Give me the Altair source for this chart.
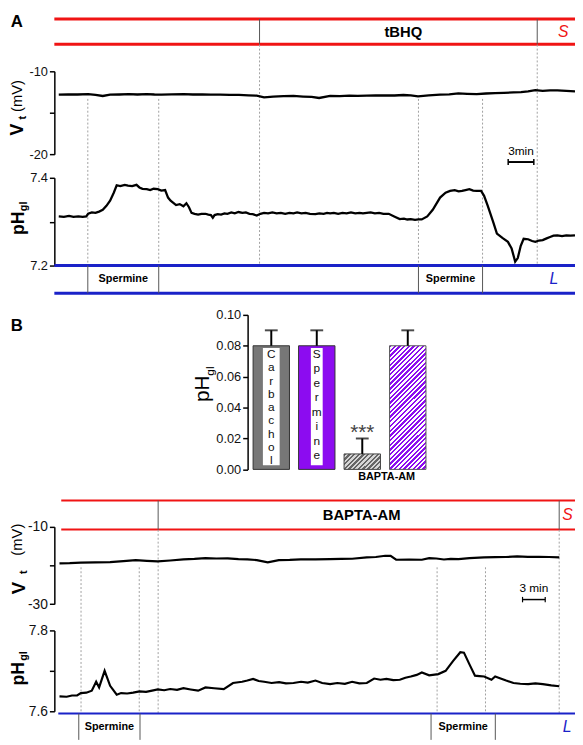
import altair as alt
import pandas as pd

FONT = "Liberation Sans"
RED = "#f01414"
BLUE = "#1a22c8"
PURPLE = "#8c0cf0"

# ---------------- data ----------------
# Panel A, pH_gl trace (time in min, pH)
a_ph_t = [0.40, 1.0, 1.6, 2.12, 2.7, 3.2, 3.62, 3.84, 4.27, 4.7,
          5.12, 5.55, 5.98, 6.41, 6.84, 7.18, 7.6, 8.13, 8.5, 8.99,
          9.50, 9.84, 10.2, 10.70, 11.1, 11.5, 11.99, 12.4, 12.85, 13.19,
          13.49, 14.13, 14.56, 14.99, 15.34, 15.64, 15.94, 16.3, 16.71, 17.1,
          17.57, 17.9, 18.21, 18.43, 18.64, 19.0, 19.4, 19.8, 20.14, 20.6,
          21.0, 21.43, 21.9, 22.3, 22.72, 23.1, 23.57, 24.0, 24.43, 24.9,
          25.4, 25.9, 26.4, 26.9, 27.4, 27.87, 28.3, 28.8, 29.3, 29.8,
          30.44, 30.9, 31.4, 31.8, 32.16, 32.6, 33.1, 33.6, 34.1, 34.6,
          35.1, 35.6, 36.0, 36.45, 36.9, 37.4, 37.9, 38.4, 39.02, 39.66,
          40.31, 40.8, 41.2, 41.60, 42.1, 42.5, 42.88, 43.53, 44.17, 45.03,
          45.67, 46.2, 46.74, 47.2, 47.60, 48.0, 48.46, 48.9, 49.32, 49.83,
          50.18, 50.61, 51.25, 51.68, 52.32, 52.97, 53.40, 53.82, 54.12, 54.47,
          54.81, 55.33, 55.8, 56.18, 56.6, 57.04, 57.5, 57.90, 58.3, 58.76,
          59.3, 59.8, 60.3, 60.82]
a_ph_v = [7.312, 7.311, 7.313, 7.311, 7.312, 7.311, 7.312, 7.318, 7.321, 7.320,
          7.323, 7.327, 7.336, 7.348, 7.366, 7.383, 7.381, 7.384, 7.382, 7.381,
          7.384, 7.378, 7.375, 7.374, 7.372, 7.375, 7.374, 7.371, 7.372, 7.355,
          7.348, 7.338, 7.340, 7.335, 7.342, 7.333, 7.320, 7.318, 7.316, 7.318,
          7.318, 7.316, 7.315, 7.309, 7.315, 7.317, 7.316, 7.319, 7.318, 7.321,
          7.319, 7.322, 7.320, 7.321, 7.318, 7.317, 7.314, 7.318, 7.320, 7.319,
          7.321, 7.319, 7.320, 7.318, 7.320, 7.319, 7.321, 7.319, 7.320, 7.318,
          7.317, 7.319, 7.318, 7.320, 7.319, 7.320, 7.318, 7.320, 7.319, 7.321,
          7.319, 7.320, 7.319, 7.320, 7.321, 7.319, 7.320, 7.318, 7.318, 7.312,
          7.306, 7.307, 7.305, 7.306, 7.304, 7.305, 7.305, 7.312, 7.327, 7.355,
          7.366, 7.370, 7.372, 7.369, 7.370, 7.372, 7.374, 7.371, 7.370, 7.370,
          7.359, 7.336, 7.299, 7.273, 7.263, 7.254, 7.239, 7.209, 7.217, 7.245,
          7.261, 7.260, 7.256, 7.254, 7.257, 7.258, 7.262, 7.265, 7.268, 7.269,
          7.267, 7.269, 7.268, 7.269]
# Panel A, Vt trace (mV)
a_vt_t = [0.40, 1.5, 2.6, 3.84, 4.7, 5.55, 6.41, 7.5, 8.6, 9.6,
          10.70, 11.6, 12.42, 13.6, 14.99, 16.1, 17.2, 18.2, 19.28, 20.4,
          21.5, 22.6, 23.57, 24.43, 25.5, 26.7, 27.87, 29.0, 30.0, 30.87,
          32.16, 33.3, 34.4, 35.4, 36.45, 37.5, 38.6, 39.7, 40.74, 41.6,
          42.45, 43.7, 45.03, 46.1, 47.17, 48.2, 49.32, 50.4, 51.46, 52.5,
          53.61, 54.5, 55.33, 56.18, 57.04, 57.9, 58.76, 59.8, 60.82]
a_vt_v = [-12.82, -12.78, -12.80, -12.75, -12.85, -12.98, -12.82, -12.80, -12.76, -12.80,
          -12.75, -12.80, -12.82, -12.78, -12.75, -12.80, -12.78, -12.82, -12.82, -12.85,
          -12.84, -12.90, -12.94, -13.14, -13.05, -13.00, -12.98, -13.05, -13.10, -13.22,
          -12.98, -13.00, -12.95, -12.97, -12.94, -12.92, -12.90, -12.92, -12.86, -12.92,
          -13.02, -12.92, -12.82, -12.78, -12.67, -12.72, -12.75, -12.68, -12.63, -12.60,
          -12.55, -12.50, -12.43, -12.27, -12.35, -12.30, -12.31, -12.36, -12.43]
# Panel B, Vt trace (mV)
b_vt_t = [0.55, 1.9, 3.37, 5.3, 7.25, 9.0, 10.64, 12.1, 13.55, 15.2,
          16.95, 18.4, 19.86, 21.3, 22.8, 24.22, 25.4, 26.65, 28.10, 29.56,
          31.0, 32.47, 34.4, 36.35, 37.8, 39.26, 41.20, 42.4, 43.63, 44.35,
          45.08, 46.8, 48.48, 49.45, 50.4, 51.4, 52.3, 53.33, 54.78, 56.72,
          58.2, 59.6, 61.09, 62.5, 64.00, 65.3, 66.66]
b_vt_v = [-19.45, -19.40, -19.28, -19.20, -19.11, -18.85, -18.60, -18.80, -18.94, -18.70,
          -18.43, -18.30, -18.09, -18.20, -18.15, -18.34, -18.40, -18.60, -19.19, -18.60,
          -18.55, -18.43, -18.40, -18.34, -18.30, -18.26, -17.92, -17.80, -17.49, -17.49,
          -18.51, -18.48, -18.51, -18.09, -18.20, -18.45, -18.30, -18.34, -18.09, -17.92,
          -17.85, -17.80, -17.66, -17.75, -17.74, -17.80, -17.92]
# Panel B, pH_gl trace
b_ph_t = [0.55, 1.5, 2.2, 2.88, 3.37, 4.1, 4.82, 5.40, 5.79, 6.52,
          7.25, 8.12, 8.70, 9.5, 10.3, 11.13, 12.0, 12.8, 13.55, 14.4,
          15.2, 16.1, 16.95, 17.9, 18.89, 19.86, 21.0, 22.28, 23.50, 24.71,
          25.4, 26.16, 26.9, 27.62, 28.6, 29.6, 30.5, 31.50, 32.5, 33.4,
          34.41, 35.3, 36.35, 37.3, 38.3, 39.26, 40.2, 41.20, 42.17, 43.0,
          43.8, 44.7, 45.57, 46.3, 47.02, 47.8, 48.48, 49.45, 50.66, 51.63,
          52.60, 53.57, 54.05, 54.78, 55.51, 56.1, 56.72, 57.69, 58.18, 58.9,
          59.63, 60.60, 61.5, 62.54, 63.5, 64.48, 65.6, 66.66]
b_ph_v = [7.637, 7.636, 7.639, 7.639, 7.645, 7.646, 7.651, 7.673, 7.659, 7.700,
          7.663, 7.641, 7.645, 7.644, 7.646, 7.649, 7.648, 7.651, 7.654, 7.652,
          7.655, 7.653, 7.657, 7.654, 7.651, 7.659, 7.657, 7.655, 7.670, 7.673,
          7.676, 7.680, 7.675, 7.673, 7.670, 7.672, 7.669, 7.670, 7.673, 7.671,
          7.676, 7.670, 7.667, 7.670, 7.668, 7.673, 7.669, 7.670, 7.681, 7.678,
          7.680, 7.677, 7.678, 7.683, 7.686, 7.690, 7.696, 7.689, 7.692, 7.700,
          7.724, 7.746, 7.745, 7.716, 7.688, 7.687, 7.686, 7.678, 7.686, 7.681,
          7.676, 7.670, 7.668, 7.667, 7.669, 7.667, 7.664, 7.662]

# Application periods (min)
a_sperm_start = [3.8, 42.5]
a_sperm_end = [12.1, 50.0]
a_tbhq = [23.9, 56.4]
b_sperm_start = [3.1, 49.7]
b_sperm_end = [11.2, 58.2]
b_sperm_dash = [3.4, 11.1, 50.5, 56.9]
b_bapta = [13.6, 66.65]
a_scale_bar = [53.0, 56.0]
b_scale_bar = [61.8, 64.8]

# Panel B bar chart
bar_cats = ["Carbachol", "Spermine", "BAPTA-AM", "BAPTA-AM + Spermine"]
bar_vals = [0.08, 0.08, 0.01, 0.08]
bar_errs = [0.01, 0.01, 0.01, 0.01]

# ---------------- helpers ----------------
def P(v):  # page pixel -> chart pixel
    return v - 8

DUMMY = pd.DataFrame({"d": [0]})
XA = alt.Scale(domain=[0, 60.82], range=[P(56), P(583)], nice=False, zero=False)
XB = alt.Scale(domain=[0, 68.74], range=[P(56), P(583)], nice=False, zero=False)
XBAR = alt.Scale(type="band", domain=bar_cats, range=[P(251), P(437.4)],
                 paddingInner=0.2, paddingOuter=0.12)
YBAR = alt.Scale(domain=[0, 0.1], range=[P(470.7), P(314)], nice=False, zero=False)

AX = dict(orient="left", grid=False, title=None, domainColor="black", tickColor="black",
          domainWidth=1.5, tickWidth=1.5, tickSize=5, labelFont=FONT, labelColor="#111",
          labelPadding=2)


def xa(f="t"):
    return alt.X(f"{f}:Q", scale=XA, axis=None)


def xb(f="t"):
    return alt.X(f"{f}:Q", scale=XB, axis=None)


def xbar():
    return alt.X("cat:N", scale=XBAR, axis=None, sort=bar_cats)


def ybar(f, axis=None):
    return alt.Y(f"{f}:Q", scale=YBAR, axis=axis)


def txt(s, x, y, size=12, weight="normal", color="black", angle=0, align="center",
        baseline="middle", style="normal"):
    return alt.Chart(DUMMY).mark_text(
        text=s, fontSize=size, fontWeight=weight, color=color, angle=angle, align=align,
        baseline=baseline, fontStyle=style, font=FONT
    ).encode(x=alt.value(P(x)), y=alt.value(P(y)))


def hrule(x1, x2, y, color, w):
    return alt.Chart(DUMMY).mark_rule(color=color, strokeWidth=w).encode(
        x=alt.value(P(x1)), x2=alt.value(P(x2)), y=alt.value(P(y)))


def hatch(c_line, c_bg, w, h, period=3.4):
    k = (w + h) / (w * w + h * h)
    diag = (w + h) / 2 ** 0.5
    n = max(1, round(diag / period))
    stops = []
    for i in range(n):
        a, b, c = i / n, (i + 0.5) / n, (i + 1) / n
        stops += [alt.GradientStop(color=c_line, offset=a), alt.GradientStop(color=c_line, offset=b),
                  alt.GradientStop(color=c_bg, offset=b), alt.GradientStop(color=c_bg, offset=c)]
    return alt.LinearGradient(gradient="linear", stops=stops, x1=0, y1=0, x2=w * k, y2=h * k)


DASH = dict(color="#a0a0a0", strokeWidth=1, strokeDash=[2, 2])

layers = []

# ================= PANEL A =================
layers.append(txt("A", 17, 17, size=17, weight="bold"))
layers.append(hrule(55, 583, 14, RED, 3))
layers.append(hrule(55, 583, 39.5, RED, 3))
df_tb = pd.DataFrame({"t": a_tbhq})
layers.append(alt.Chart(df_tb).mark_rule(color="#555", strokeWidth=1).encode(
    x=xa(), y=alt.value(P(14)), y2=alt.value(P(39.5))))
layers.append(alt.Chart(df_tb).mark_rule(**DASH).encode(
    x=xa(), y=alt.value(P(40)), y2=alt.value(P(264))))
df_tbl = pd.DataFrame({"mid": [(a_tbhq[0] + a_tbhq[1]) / 2], "label": ["tBHQ"]})
layers.append(alt.Chart(df_tbl).mark_text(fontSize=15, fontWeight="bold", font=FONT, dx=5).encode(
    x=xa("mid"), y=alt.value(P(27)), text="label:N"))
layers.append(txt("S", 571, 27, size=16, color=RED, style="italic"))

df_asp = pd.DataFrame({"t": a_sperm_start + a_sperm_end})
layers.append(alt.Chart(df_asp).mark_rule(**DASH).encode(
    x=xa(), y=alt.value(P(95)), y2=alt.value(P(264))))
layers.append(hrule(55, 583, 264, BLUE, 3))
layers.append(hrule(55, 583, 292, BLUE, 3))
layers.append(alt.Chart(df_asp).mark_rule(color="#555", strokeWidth=1).encode(
    x=xa(), y=alt.value(P(264)), y2=alt.value(P(292))))
df_asl = pd.DataFrame({"mid": [(s + e) / 2 for s, e in zip(a_sperm_start, a_sperm_end)],
                       "label": ["Spermine", "Spermine"]})
layers.append(alt.Chart(df_asl).mark_text(fontSize=11, fontWeight="bold", font=FONT).encode(
    x=xa("mid"), y=alt.value(P(278)), text="label:N"))
layers.append(txt("L", 561.5, 278, size=16, color=BLUE, style="italic"))

# scale bar A
df_sba = pd.DataFrame({"t": [a_scale_bar[0]], "t2": [a_scale_bar[1]], "mid": [sum(a_scale_bar) / 2]})
layers.append(alt.Chart(df_sba).mark_rule(color="black", strokeWidth=2).encode(
    x=xa(), x2="t2:Q", y=alt.value(P(159))))
layers.append(alt.Chart(pd.DataFrame({"t": a_scale_bar})).mark_rule(color="black", strokeWidth=1.5).encode(
    x=xa(), y=alt.value(P(156)), y2=alt.value(P(162))))
layers.append(alt.Chart(df_sba).mark_text(text="3min", fontSize=12, font=FONT).encode(
    x=xa("mid"), y=alt.value(P(148))))

# traces A
df_avt = pd.DataFrame({"t": a_vt_t, "v": a_vt_v})
layers.append(alt.Chart(df_avt).mark_line(color="black", strokeWidth=2.3).encode(
    x=xa(),
    y=alt.Y("v:Q", scale=alt.Scale(domain=[-20, -10], range=[P(151), P(67)], nice=False, zero=False),
            axis=alt.Axis(values=[-20, -15, -10], offset=-P(55), labelFontSize=13,
                          labelExpr="datum.value == -15 ? '' : '' + datum.value", **AX))))
df_aph = pd.DataFrame({"t": a_ph_t, "v": a_ph_v})
layers.append(alt.Chart(df_aph).mark_line(color="black", strokeWidth=2.3).encode(
    x=xa(),
    y=alt.Y("v:Q", scale=alt.Scale(domain=[7.2, 7.4], range=[P(264), P(175)], nice=False, zero=False),
            axis=alt.Axis(values=[7.2, 7.3, 7.4], offset=-P(55), labelFontSize=13,
                          labelExpr="abs(datum.value - 7.3) < 0.001 ? '' : format(datum.value, '.1f')", **AX))))

# axis titles A
layers.append(txt("V", 18, 126, size=18, weight="bold", angle=270))
layers.append(txt("t", 23, 114, size=11, weight="bold", angle=270))
layers.append(txt("(mV)", 17, 92, size=15, angle=270))
layers.append(txt("pH", 19, 221, size=18, weight="bold", angle=270))
layers.append(txt("gl", 24, 204, size=11, weight="bold", angle=270))

# ================= PANEL B: bar chart =================
layers.append(txt("B", 17, 325, size=17, weight="bold"))
df_bar = pd.DataFrame({"cat": bar_cats, "val": bar_vals, "err": bar_errs})
df_bar["hi"] = df_bar["val"] + df_bar["err"]

bar_axis = alt.Axis(values=[0, 0.02, 0.04, 0.06, 0.08, 0.10], format=".2f", offset=-P(251),
                    labelFontSize=13, **AX)
layers.append(alt.Chart(df_bar.iloc[[0]]).mark_bar(fill="#777777", stroke="#333", strokeWidth=1).encode(
    x=xbar(), y=ybar("val", bar_axis)))
layers.append(alt.Chart(df_bar.iloc[[1]]).mark_bar(fill=PURPLE, stroke="#333", strokeWidth=1).encode(
    x=xbar(), y=ybar("val")))
layers.append(alt.Chart(df_bar.iloc[[2]]).mark_bar(
    fill=hatch("#666666", "#d6d6d6", 36.9, 15.7), stroke="#444", strokeWidth=1).encode(
    x=xbar(), y=ybar("val")))
layers.append(alt.Chart(df_bar.iloc[[3]]).mark_bar(
    fill=hatch(PURPLE, "#ffffff", 36.9, 125.4), stroke="#555", strokeWidth=1).encode(
    x=xbar(), y=ybar("val")))

# white label strips with stacked letters
df_strip = pd.DataFrame({"cat": bar_cats[:2], "lo": [0.0026, 0.0026], "top": [0.0785, 0.0785],
                         "w": [17, 12]})
layers.append(alt.Chart(df_strip).mark_bar(fill="white").encode(
    x=xbar(), y=ybar("lo"), y2="top:Q", size=alt.Size("w:Q", scale=None)))
layers.append(alt.Chart(df_strip.iloc[[0]]).mark_text(
    text="\n".join(list("Carbachol")), lineBreak="\n", lineHeight=13.5, fontSize=12, font=FONT,
    baseline="top", color="#111", dy=1).encode(x=xbar(), y=ybar("top")))
layers.append(alt.Chart(df_strip.iloc[[1]]).mark_text(
    text="\n".join(list("Spermine")), lineBreak="\n", lineHeight=14.7, fontSize=12, font=FONT,
    baseline="top", color="#111", dy=1).encode(x=xbar(), y=ybar("top")))

# error bars
layers.append(alt.Chart(df_bar).mark_rule(color="black", strokeWidth=2).encode(
    x=xbar(), y=ybar("val"), y2="hi:Q"))
layers.append(alt.Chart(df_bar).mark_tick(color="black", thickness=2, size=13).encode(
    x=xbar(), y=ybar("hi")))
layers.append(alt.Chart(df_bar.iloc[[2]]).mark_text(
    text="***", fontSize=21, font=FONT, color="#444", baseline="middle", dy=-5).encode(
    x=xbar(), y=ybar("hi")))
layers.append(txt("BAPTA-AM", 392, 478, size=11, weight="bold"))

layers.append(txt("pH", 206, 389, size=21, angle=270))
layers.append(txt("gl", 213, 371, size=12, angle=270))

# ================= PANEL B: traces =================
layers.append(hrule(62, 583, 502.3, RED, 2))
layers.append(hrule(62, 583, 531.7, RED, 2))
df_bb = pd.DataFrame({"t": b_bapta})
layers.append(alt.Chart(df_bb).mark_rule(color="#555", strokeWidth=1).encode(
    x=xb(), y=alt.value(P(502.3)), y2=alt.value(P(531.7))))
layers.append(alt.Chart(df_bb).mark_rule(**DASH).encode(
    x=xb(), y=alt.value(P(532)), y2=alt.value(P(718))))
df_bbl = pd.DataFrame({"mid": [(b_bapta[0] + b_bapta[1]) / 2], "label": ["BAPTA-AM"]})
layers.append(alt.Chart(df_bbl).mark_text(fontSize=15, fontWeight="bold", font=FONT, dx=3).encode(
    x=xb("mid"), y=alt.value(P(517)), text="label:N"))
layers.append(txt("S", 570, 517, size=16, color=RED, style="italic", align="left"))

layers.append(alt.Chart(pd.DataFrame({"t": b_sperm_dash})).mark_rule(**DASH).encode(
    x=xb(), y=alt.value(P(570)), y2=alt.value(P(718))))
layers.append(hrule(59, 583, 718.3, BLUE, 2))
df_bsp = pd.DataFrame({"t": b_sperm_start + b_sperm_end})
layers.append(alt.Chart(df_bsp).mark_rule(color="#555", strokeWidth=1).encode(
    x=xb(), y=alt.value(P(718.3)), y2=alt.value(P(745))))
df_bsl = pd.DataFrame({"mid": [(s + e) / 2 for s, e in zip(b_sperm_start, b_sperm_end)],
                       "label": ["Spermine", "Spermine"]})
layers.append(alt.Chart(df_bsl).mark_text(fontSize=11, fontWeight="bold", font=FONT).encode(
    x=xb("mid"), y=alt.value(P(732)), text="label:N"))
layers.append(txt("L", 575, 732, size=16, color=BLUE, style="italic"))

# scale bar B
df_sbb = pd.DataFrame({"t": [b_scale_bar[0]], "t2": [b_scale_bar[1]], "mid": [sum(b_scale_bar) / 2]})
layers.append(alt.Chart(df_sbb).mark_rule(color="black", strokeWidth=1.5).encode(
    x=xb(), x2="t2:Q", y=alt.value(P(602.7))))
layers.append(alt.Chart(pd.DataFrame({"t": b_scale_bar})).mark_rule(color="black", strokeWidth=1.2).encode(
    x=xb(), y=alt.value(P(600)), y2=alt.value(P(605.5))))
layers.append(alt.Chart(df_sbb).mark_text(text="3 min", fontSize=12, font=FONT).encode(
    x=xb("mid"), y=alt.value(P(591))))

df_bvt = pd.DataFrame({"t": b_vt_t, "v": b_vt_v})
layers.append(alt.Chart(df_bvt).mark_line(color="black", strokeWidth=2.2).encode(
    x=xb(),
    y=alt.Y("v:Q", scale=alt.Scale(domain=[-30, -10], range=[P(607.3), P(529)], nice=False, zero=False),
            axis=alt.Axis(values=[-30, -20, -10], offset=-P(55), labelFontSize=14,
                          labelExpr="datum.value == -20 ? '' : '' + datum.value", **AX))))
df_bph = pd.DataFrame({"t": b_ph_t, "v": b_ph_v})
layers.append(alt.Chart(df_bph).mark_line(color="black", strokeWidth=2.2).encode(
    x=xb(),
    y=alt.Y("v:Q", scale=alt.Scale(domain=[7.6, 7.8], range=[P(716), P(634)], nice=False, zero=False),
            axis=alt.Axis(values=[7.6, 7.7, 7.8], offset=-P(55), labelFontSize=14,
                          labelExpr="abs(datum.value - 7.7) < 0.001 ? '' : format(datum.value, '.1f')", **AX))))

layers.append(txt("V", 19, 591, size=19, weight="bold", angle=270))
layers.append(txt("t", 24, 575, size=11, weight="bold", angle=270))
layers.append(txt("(mV)", 17, 542, size=15, angle=270))
layers.append(txt("pH", 19, 678, size=18, weight="bold", angle=270))
layers.append(txt("gl", 24, 660, size=11, weight="bold", angle=270))

chart = alt.layer(*layers).resolve_scale(
    x="independent", y="independent", size="independent"
).properties(
    width=575, height=737, autosize=alt.AutoSizeParams(type="none"), padding=0
).configure_view(stroke=None)

chart.save("out.html", embed_options={"renderer": "svg", "actions": False})
